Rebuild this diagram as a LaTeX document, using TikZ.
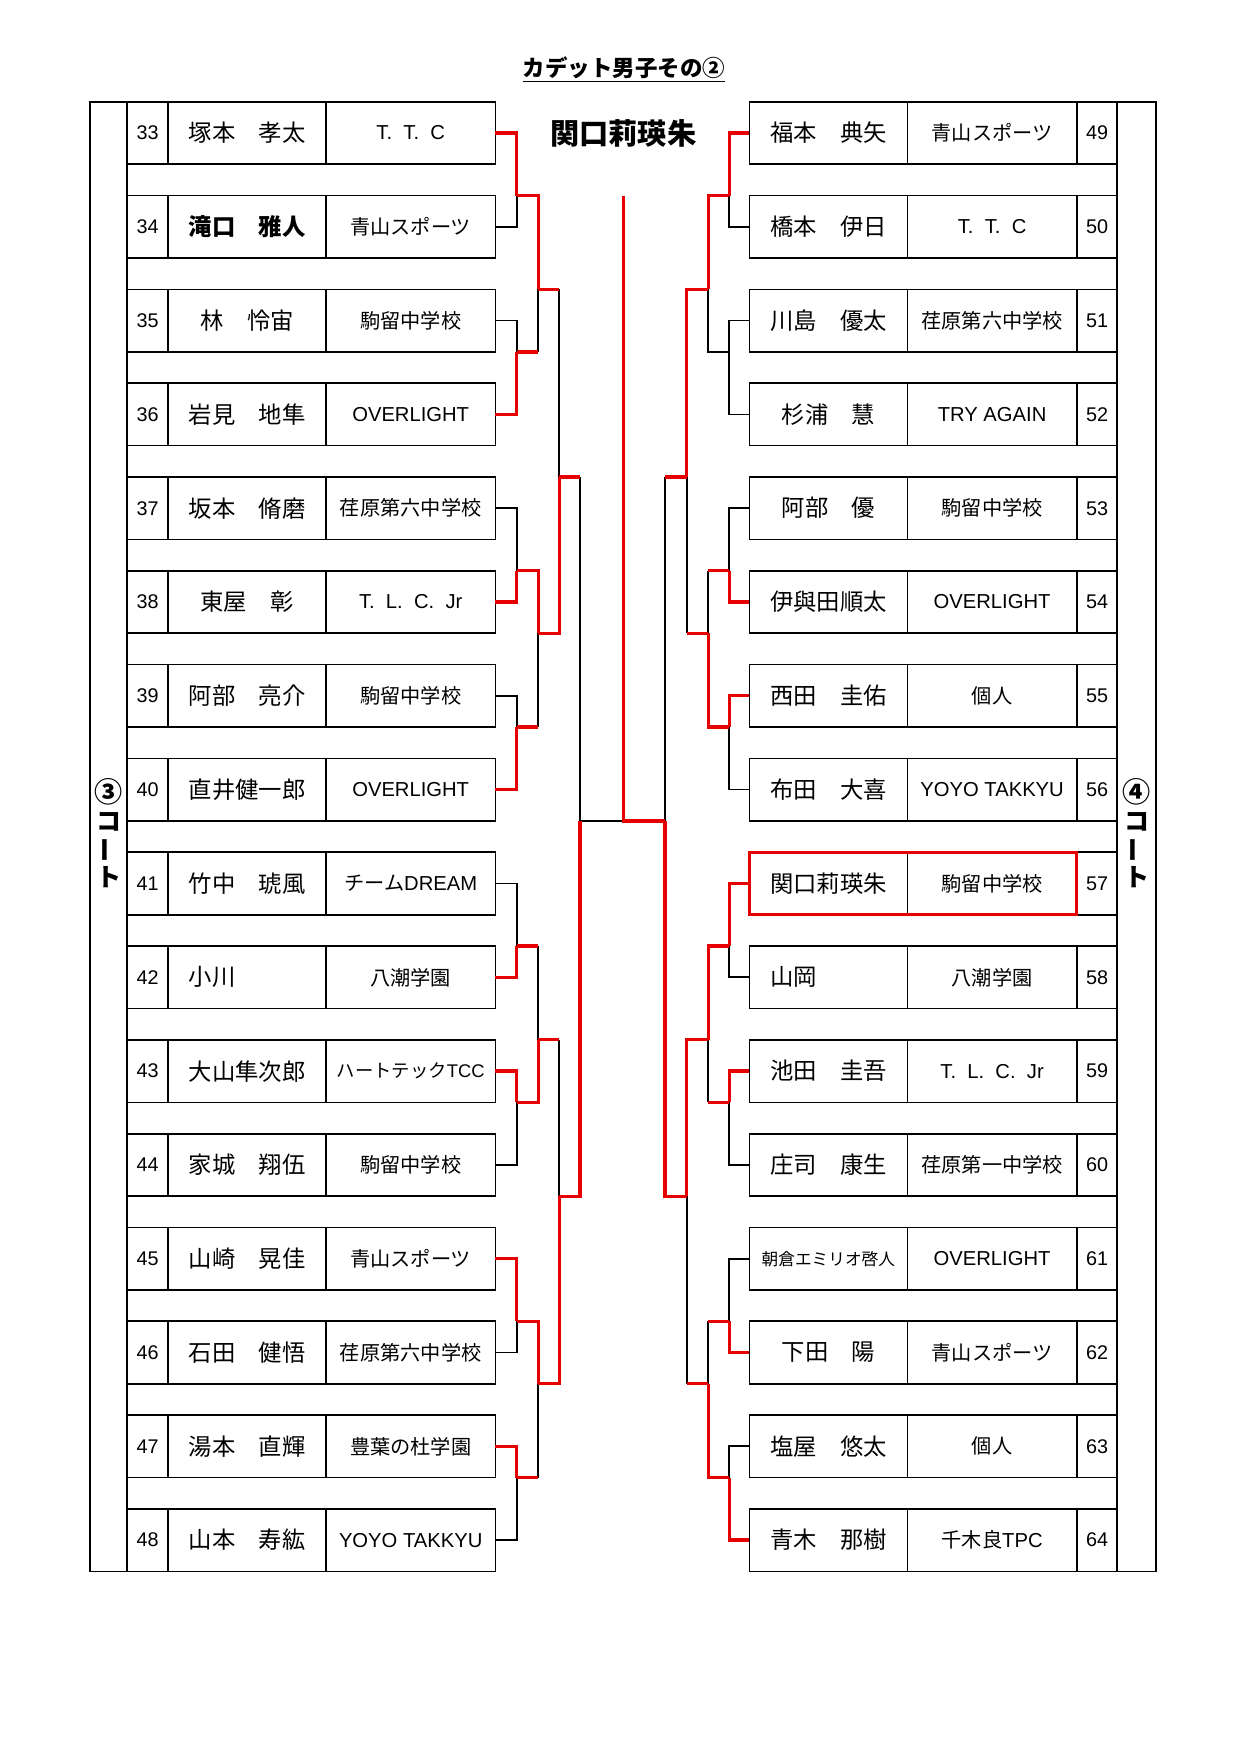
\documentclass[tikz,border=0pt]{standalone}
\usepackage{fontspec}
\setmainfont{Liberation Sans}
\newfontfamily\jp{Noto Sans CJK JP}
\newfontfamily\lat{Liberation Sans}
\definecolor{winred}{RGB}{230,0,0}

\begin{document}
\begin{tikzpicture}[x=0.48pt,y=-0.48pt,
	cell/.style={draw, line width=0.8pt, inner sep=0pt, outer sep=0pt, minimum height=30pt},
	numcell/.style={cell, minimum width=19.5pt, font=\lat\fontsize{9.5}{11}\selectfont},
	namecell/.style={cell, minimum width=75.9pt, font=\jp\fontsize{11.2}{13}\selectfont},
	clubcell/.style={cell, minimum width=81.25pt, font=\jp\fontsize{9.7}{11}\selectfont},
	courtlabel/.style={font=\jp\bfseries\fontsize{12}{14}\selectfont, inner sep=0pt},
	bline/.style={line width=0.8pt},
	rline/.style={line width=1.6pt, draw=winred}]
			\useasboundingbox (0,0) rectangle (1240,1754);
			% Title and the winner's name:
			\node[font=\jp\bfseries\fontsize{10.8}{13}\selectfont] (title) at (624,70) {\underline{カデット男子その②}};
			\node[font=\jp\bfseries\fontsize{14}{16}\selectfont] (champ) at (623.3,133) {関口莉瑛朱};
			% Draw the court columns:
			\draw[bline] (90,101.7) rectangle (127.3,1571.4);
			\draw[bline] (1117.3,101.7) rectangle (1155.7,1571.4);
			\node[courtlabel, font=\jp\bfseries\fontsize{13.5}{15}\selectfont] (k3a) at (108.6,792) {③};
			\node[courtlabel] (k3b) at (108.6,822) {コ};
			\node[courtlabel, rotate=90] (k3c) at (108.6,850) {ー};
			\node[courtlabel] (k3d) at (108.6,877) {ト};
			\node[courtlabel, font=\jp\bfseries\fontsize{13.5}{15}\selectfont] (k4a) at (1136.5,792) {④};
			\node[courtlabel] (k4b) at (1136.5,822) {コ};
			\node[courtlabel, rotate=90] (k4c) at (1136.5,850) {ー};
			\node[courtlabel] (k4d) at (1136.5,877) {ト};
			% Left rows (33 - 48):
			\node[numcell] (n33) at (147.6,133.0) {33};
			\node[namecell] (p33) at (247.0,133.0) {塚本　孝太};
			\node[clubcell] (c33) at (410.7,133.0) {\lat T.\ \ T.\ \ C};
			\node[numcell] (n34) at (147.6,226.8) {34};
			\node[namecell] (p34) at (247.0,226.8) {\bfseries 滝口　雅人};
			\node[clubcell] (c34) at (410.7,226.8) {青山スポーツ};
			\node[numcell] (n35) at (147.6,320.6) {35};
			\node[namecell] (p35) at (247.0,320.6) {林　怜宙};
			\node[clubcell] (c35) at (410.7,320.6) {駒留中学校};
			\node[numcell] (n36) at (147.6,414.4) {36};
			\node[namecell] (p36) at (247.0,414.4) {岩見　地隼};
			\node[clubcell] (c36) at (410.7,414.4) {\lat OVERLIGHT};
			\node[numcell] (n37) at (147.6,508.2) {37};
			\node[namecell] (p37) at (247.0,508.2) {坂本　脩磨};
			\node[clubcell] (c37) at (410.7,508.2) {荏原第六中学校};
			\node[numcell] (n38) at (147.6,602.0) {38};
			\node[namecell] (p38) at (247.0,602.0) {東屋　彰};
			\node[clubcell] (c38) at (410.7,602.0) {\lat T.\ \ L.\ \ C.\ \ Jr};
			\node[numcell] (n39) at (147.6,695.8) {39};
			\node[namecell] (p39) at (247.0,695.8) {阿部　亮介};
			\node[clubcell] (c39) at (410.7,695.8) {駒留中学校};
			\node[numcell] (n40) at (147.6,789.6) {40};
			\node[namecell] (p40) at (247.0,789.6) {直井健一郎};
			\node[clubcell] (c40) at (410.7,789.6) {\lat OVERLIGHT};
			\node[numcell] (n41) at (147.6,883.5) {41};
			\node[namecell] (p41) at (247.0,883.5) {竹中　琥風};
			\node[clubcell] (c41) at (410.7,883.5) {チーム{\lat DREAM}};
			\node[numcell] (n42) at (147.6,977.3) {42};
			\node[namecell] (p42) at (247.0,977.3) {小川　　　};
			\node[clubcell] (c42) at (410.7,977.3) {八潮学園};
			\node[numcell] (n43) at (147.6,1071.1) {43};
			\node[namecell] (p43) at (247.0,1071.1) {大山隼次郎};
			\node[clubcell] (c43) at (410.7,1071.1) {\fontsize{8.8}{10}\selectfont ハートテック{\lat TCC}};
			\node[numcell] (n44) at (147.6,1164.9) {44};
			\node[namecell] (p44) at (247.0,1164.9) {家城　翔伍};
			\node[clubcell] (c44) at (410.7,1164.9) {駒留中学校};
			\node[numcell] (n45) at (147.6,1258.7) {45};
			\node[namecell] (p45) at (247.0,1258.7) {山崎　晃佳};
			\node[clubcell] (c45) at (410.7,1258.7) {青山スポーツ};
			\node[numcell] (n46) at (147.6,1352.5) {46};
			\node[namecell] (p46) at (247.0,1352.5) {石田　健悟};
			\node[clubcell] (c46) at (410.7,1352.5) {荏原第六中学校};
			\node[numcell] (n47) at (147.6,1446.3) {47};
			\node[namecell] (p47) at (247.0,1446.3) {湯本　直輝};
			\node[clubcell] (c47) at (410.7,1446.3) {豊葉の杜学園};
			\node[numcell] (n48) at (147.6,1540.1) {48};
			\node[namecell] (p48) at (247.0,1540.1) {山本　寿紘};
			\node[clubcell] (c48) at (410.7,1540.1) {\lat YOYO TAKKYU};
			% Right rows (49 - 64):
			\node[namecell] (p49) at (828.4,133.0) {福本　典矢};
			\node[clubcell] (c49) at (992.1,133.0) {青山スポーツ};
			\node[numcell] (n49) at (1097.0,133.0) {49};
			\node[namecell] (p50) at (828.4,226.8) {橋本　伊日};
			\node[clubcell] (c50) at (992.1,226.8) {\lat T.\ \ T.\ \ C};
			\node[numcell] (n50) at (1097.0,226.8) {50};
			\node[namecell] (p51) at (828.4,320.6) {川島　優太};
			\node[clubcell] (c51) at (992.1,320.6) {荏原第六中学校};
			\node[numcell] (n51) at (1097.0,320.6) {51};
			\node[namecell] (p52) at (828.4,414.4) {杉浦　慧};
			\node[clubcell] (c52) at (992.1,414.4) {\lat TRY AGAIN};
			\node[numcell] (n52) at (1097.0,414.4) {52};
			\node[namecell] (p53) at (828.4,508.2) {阿部　優};
			\node[clubcell] (c53) at (992.1,508.2) {駒留中学校};
			\node[numcell] (n53) at (1097.0,508.2) {53};
			\node[namecell] (p54) at (828.4,602.0) {伊與田順太};
			\node[clubcell] (c54) at (992.1,602.0) {\lat OVERLIGHT};
			\node[numcell] (n54) at (1097.0,602.0) {54};
			\node[namecell] (p55) at (828.4,695.8) {西田　圭佑};
			\node[clubcell] (c55) at (992.1,695.8) {個人};
			\node[numcell] (n55) at (1097.0,695.8) {55};
			\node[namecell] (p56) at (828.4,789.6) {布田　大喜};
			\node[clubcell] (c56) at (992.1,789.6) {\lat YOYO TAKKYU};
			\node[numcell] (n56) at (1097.0,789.6) {56};
			\node[namecell] (p57) at (828.4,883.5) {関口莉瑛朱};
			\node[clubcell] (c57) at (992.1,883.5) {駒留中学校};
			\node[numcell] (n57) at (1097.0,883.5) {57};
			\node[namecell] (p58) at (828.4,977.3) {山岡　　　};
			\node[clubcell] (c58) at (992.1,977.3) {八潮学園};
			\node[numcell] (n58) at (1097.0,977.3) {58};
			\node[namecell] (p59) at (828.4,1071.1) {池田　圭吾};
			\node[clubcell] (c59) at (992.1,1071.1) {\lat T.\ \ L.\ \ C.\ \ Jr};
			\node[numcell] (n59) at (1097.0,1071.1) {59};
			\node[namecell] (p60) at (828.4,1164.9) {庄司　康生};
			\node[clubcell] (c60) at (992.1,1164.9) {荏原第一中学校};
			\node[numcell] (n60) at (1097.0,1164.9) {60};
			\node[namecell] (p61) at (828.4,1258.7) {\fontsize{8}{9}\selectfont 朝倉エミリオ啓人};
			\node[clubcell] (c61) at (992.1,1258.7) {\lat OVERLIGHT};
			\node[numcell] (n61) at (1097.0,1258.7) {61};
			\node[namecell] (p62) at (828.4,1352.5) {下田　陽};
			\node[clubcell] (c62) at (992.1,1352.5) {青山スポーツ};
			\node[numcell] (n62) at (1097.0,1352.5) {62};
			\node[namecell] (p63) at (828.4,1446.3) {塩屋　悠太};
			\node[clubcell] (c63) at (992.1,1446.3) {個人};
			\node[numcell] (n63) at (1097.0,1446.3) {63};
			\node[namecell] (p64) at (828.4,1540.1) {青木　那樹};
			\node[clubcell] (c64) at (992.1,1540.1) {千木良{\lat TPC}};
			\node[numcell] (n64) at (1097.0,1540.1) {64};
			% Specify the positions of the junctions (left):
			\coordinate (LA) at (516.7,195.5);
			\coordinate (LB) at (516.7,351.9);
			\coordinate (LC) at (516.7,570.8);
			\coordinate (LD) at (516.7,727.1);
			\coordinate (LE) at (516.7,946.0);
			\coordinate (LF) at (516.7,1102.3);
			\coordinate (LG) at (516.7,1321.2);
			\coordinate (LH) at (516.7,1477.6);
			\coordinate (LAB) at (538.3,289.3);
			\coordinate (LCD) at (538.3,633.3);
			\coordinate (LEF) at (538.3,1039.8);
			\coordinate (LGH) at (538.3,1383.8);
			\coordinate (LAD) at (559.3,476.9);
			\coordinate (LEH) at (559.3,1196.2);
			\coordinate (LHF) at (580.0,820.9);
			% Specify the positions of the junctions (right):
			\coordinate (RA) at (729.3,195.5);
			\coordinate (RB) at (729.3,351.9);
			\coordinate (RC) at (729.3,570.8);
			\coordinate (RD) at (729.3,727.1);
			\coordinate (RE) at (729.3,946.0);
			\coordinate (RF) at (729.3,1102.3);
			\coordinate (RG) at (729.3,1321.2);
			\coordinate (RH) at (729.3,1477.6);
			\coordinate (RAB) at (708.3,289.3);
			\coordinate (RCD) at (708.3,633.3);
			\coordinate (REF) at (708.3,1039.8);
			\coordinate (RGH) at (708.3,1383.8);
			\coordinate (RAD) at (686.7,476.9);
			\coordinate (REH) at (686.7,1196.2);
			\coordinate (RHF) at (665.0,820.9);
			% Final and top of the centre line:
			\coordinate (fin) at (623.3,820.9);
			\coordinate (ctop) at (623.3,195.5);
			% Draw black lines (left):
			\draw[bline] (c34.east) -| (LA);
			\draw[bline] (c35.east) -| (LB);
			\draw[bline] (c37.east) -| (LC);
			\draw[bline] (c39.east) -| (LD);
			\draw[bline] (c41.east) -| (LE);
			\draw[bline] (c44.east) -| (LF);
			\draw[bline] (c46.east) -| (LG);
			\draw[bline] (c48.east) -| (LH);
			\draw[bline] (LB -| LAB) -- (LAB);
			\draw[bline] (LD -| LCD) -- (LCD);
			\draw[bline] (LE -| LEF) -- (LEF);
			\draw[bline] (LH -| LGH) -- (LGH);
			\draw[bline] (LAB -| LAD) -- (LAD);
			\draw[bline] (LEF -| LEH) -- (LEH);
			\draw[bline] (LAD -| LHF) -- (LHF);
			\draw[bline] (LHF) -- (fin);
			% Draw black lines (right):
			\draw[bline] (p50.west) -| (RA);
			\draw[bline] (p51.west) -| (RB);
			\draw[bline] (p52.west) -| (RB);
			\draw[bline] (p53.west) -| (RC);
			\draw[bline] (p56.west) -| (RD);
			\draw[bline] (p58.west) -| (RE);
			\draw[bline] (p60.west) -| (RF);
			\draw[bline] (p61.west) -| (RG);
			\draw[bline] (p63.west) -| (RH);
			\draw[bline] (RB) -| (RAB);
			\draw[bline] (RC -| RCD) -- (RCD);
			\draw[bline] (RF -| REF) -- (REF);
			\draw[bline] (RG -| RGH) -- (RGH);
			\draw[bline] (RCD -| RAD) -- (RAD);
			\draw[bline] (RGH -| REH) -- (REH);
			\draw[bline] (RAD -| RHF) -- (RHF);
			% Draw red lines of the winners (left):
			\draw[rline] (c33.east) -| (LA);
			\draw[rline] (c36.east) -| (LB);
			\draw[rline] (c38.east) -| (LC);
			\draw[rline] (c40.east) -| (LD);
			\draw[rline] (c42.east) -| (LE);
			\draw[rline] (c43.east) -| (LF);
			\draw[rline] (c45.east) -| (LG);
			\draw[rline] (c47.east) -| (LH);
			\draw[rline] (LA) -| (LAB);
			\draw[rline] (LB) -- (LB -| LAB);
			\draw[rline] (LC) -| (LCD);
			\draw[rline] (LD) -- (LD -| LCD);
			\draw[rline] (LE) -- (LE -| LEF);
			\draw[rline] (LF) -| (LEF);
			\draw[rline] (LG) -| (LGH);
			\draw[rline] (LH) -- (LH -| LGH);
			\draw[rline] (LAB) -- (LAB -| LAD);
			\draw[rline] (LCD) -| (LAD);
			\draw[rline] (LEF) -- (LEF -| LEH);
			\draw[rline] (LGH) -| (LEH);
			\draw[rline] (LAD) -- (LAD -| LHF);
			\draw[rline] (LEH) -| (LHF);
			% Draw red lines of the winners (right):
			\draw[rline] (p49.west) -| (RA);
			\draw[rline] (p54.west) -| (RC);
			\draw[rline] (p55.west) -| (RD);
			\draw[rline] (p57.west) -| (RE);
			\draw[rline] (p59.west) -| (RF);
			\draw[rline] (p62.west) -| (RG);
			\draw[rline] (p64.west) -| (RH);
			\draw[rline] (RA) -| (RAB);
			\draw[rline] (RC) -- (RC -| RCD);
			\draw[rline] (RD) -| (RCD);
			\draw[rline] (RE) -| (REF);
			\draw[rline] (RF) -- (RF -| REF);
			\draw[rline] (RG) -- (RG -| RGH);
			\draw[rline] (RH) -| (RGH);
			\draw[rline] (RAB) -| (RAD);
			\draw[rline] (RCD) -- (RCD -| RAD);
			\draw[rline] (REF) -| (REH);
			\draw[rline] (RGH) -- (RGH -| REH);
			\draw[rline] (RAD) -- (RAD -| RHF);
			\draw[rline] (REH) -| (RHF);
			\draw[rline] (RHF) -- (fin) -- (ctop);
			% Draw red frame round the winner:
			\draw[rline] (p57.north west) rectangle (c57.south east);
		\end{tikzpicture}
\end{document}
